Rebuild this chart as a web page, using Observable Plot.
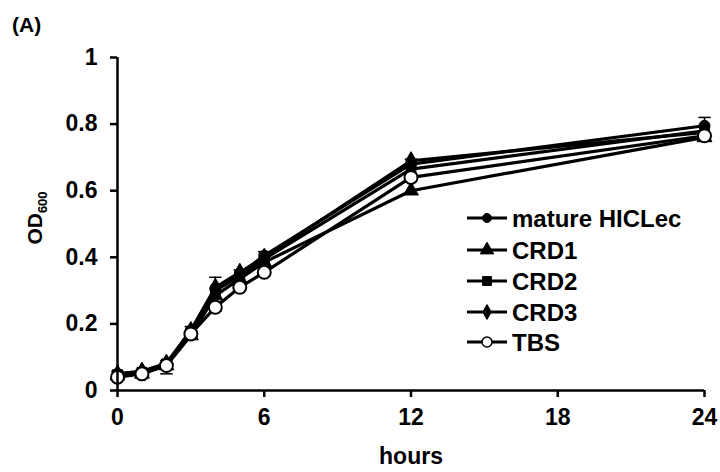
<!DOCTYPE html>
<html>
<head>
<meta charset="utf-8">
<script src="https://cdn.jsdelivr.net/npm/d3@7"></script>
<script src="https://cdn.jsdelivr.net/npm/@observablehq/plot@0.6"></script>
<style>
  html, body { margin: 0; padding: 0; background: #fff; }
  #chart { width: 720px; height: 472px; position: relative; }
</style>
</head>
<body>
<div id="chart"></div>
<script>
// ---- data ----
const hours = [0, 1, 2, 3, 4, 5, 6, 12, 24];
const seriesNames = ["mature HICLec", "CRD1", "CRD2", "CRD3", "TBS"];
const matureHICLec = [0.050, 0.055, 0.080, 0.180, 0.305, 0.350, 0.405, 0.680, 0.795];
const crd1 = [0.045, 0.050, 0.075, 0.165, 0.285, 0.335, 0.385, 0.600, 0.760];
const crd2 = [0.048, 0.055, 0.080, 0.175, 0.300, 0.345, 0.395, 0.665, 0.780];
const crd3 = [0.050, 0.058, 0.082, 0.180, 0.310, 0.355, 0.400, 0.690, 0.775];
const tbs  = [0.040, 0.050, 0.075, 0.170, 0.250, 0.310, 0.355, 0.640, 0.765];
const matureErr = [0.008, 0.008, 0.010, 0.012, 0.035, 0.012, 0.012, 0.015, 0.025];
const tbsErr    = [0.008, 0.006, 0.025, 0.010, 0.012, 0.010, 0.010, 0.012, 0.010];
const hourTicks = [0, 6, 12, 18, 24];
const odTicks = [0, 0.2, 0.4, 0.6, 0.8, 1];
const symbols = ["circle", "triangle", "square", "diamond", "circle"];
const fills = ["black", "black", "black", "black", "white"];

const allValues = [matureHICLec, crd1, crd2, crd3, tbs];
const rows = [];
seriesNames.forEach((s, i) => hours.forEach((h, j) => rows.push({series: s, idx: i, hour: h, od: allValues[i][j]})));
const errRows = [];
hours.forEach((h, j) => {
  errRows.push({hour: h, lo: matureHICLec[j], hi: matureHICLec[j] + matureErr[j]});
  errRows.push({hour: h, lo: tbs[j] - tbsErr[j], hi: tbs[j]});
});
const capRows = [];
hours.forEach((h, j) => {
  capRows.push({hour: h, od: matureHICLec[j] + matureErr[j]});
  capRows.push({hour: h, od: tbs[j] - tbsErr[j]});
});

const radii = [5.5, 5.5, 5.5, 5.5, 6.5];
const legendRadii = [4.5, 5, 5, 4.5, 5];
const capSymbol = {draw(ctx, size) { const w = Math.sqrt(size) / 2; ctx.moveTo(-w, 0); ctx.lineTo(w, 0); }};
const font = "'Liberation Sans', Arial, sans-serif";

const marks = [
  Plot.ruleX(errRows, {x: "hour", y1: "lo", y2: "hi", stroke: "black", strokeWidth: 1.5}),
  Plot.dot(capRows, {x: "hour", y: "od", symbol: capSymbol, r: 7, stroke: "black", strokeWidth: 1.5, fill: "none"}),
  Plot.line(rows, {x: "hour", y: "od", z: "series", stroke: "black", strokeWidth: 3.2})
];
seriesNames.forEach((s, i) => {
  marks.push(Plot.dot(rows.filter(d => d.idx === i), {
    x: "hour", y: "od", symbol: () => symbols[i], r: radii[i],
    fill: fills[i], stroke: "black", strokeWidth: i === 4 ? 2 : 1
  }));
});
marks.push(
  Plot.ruleX([0], {y1: 0, y2: 1, stroke: "black", strokeWidth: 2.5}),
  Plot.ruleY([0], {x1: 0, x2: 24, stroke: "black", strokeWidth: 2.5}),
  Plot.axisX({ticks: hourTicks, tickSize: 7, tickPadding: 11, strokeWidth: 2.5, label: null, fontSize: 23}),
  Plot.axisY({ticks: odTicks, tickSize: 7, tickPadding: 13, strokeWidth: 2.5, label: null, fontSize: 23, tickFormat: d => String(d)})
);

const chart = Plot.plot({
  width: 720, height: 472,
  marginLeft: 117, marginRight: 16, marginTop: 57, marginBottom: 82,
  x: {domain: [0, 24]},
  y: {domain: [0, 1]},
  symbol: {type: "identity"},
  style: {fontFamily: font, fontWeight: "bold", fontSize: "23px", color: "black", background: "white", overflow: "visible"},
  marks
});
document.getElementById("chart").appendChild(chart);

const svg = d3.select(chart);
// panel letter
svg.append("text").attr("x", 12).attr("y", 32).attr("text-anchor", "start").attr("font-size", 21).attr("font-weight", "bold")
  .attr("font-family", font).attr("fill", "black").text("(A)");
// x title
svg.append("text").attr("x", 411).attr("y", 464).attr("text-anchor", "middle").attr("font-size", 23)
  .attr("font-weight", "bold").attr("font-family", font).attr("fill", "black").text("hours");
// y title OD600
const yt = svg.append("text").attr("transform", "translate(42,218) rotate(-90)").attr("text-anchor", "middle")
  .attr("font-size", 21).attr("font-weight", "bold").attr("font-family", font).attr("fill", "black");
yt.append("tspan").text("OD");
yt.append("tspan").attr("font-size", 13).attr("dy", 5).text("600");

// legend
const d3sym = {circle: d3.symbolCircle, triangle: d3.symbolTriangle, square: d3.symbolSquare, diamond: d3.symbolDiamond};
const legendY = [218, 250, 281, 312, 342];
const lg = svg.append("g");
seriesNames.forEach((s, i) => {
  const y = legendY[i];
  lg.append("line").attr("x1", 467).attr("x2", 507).attr("y1", y).attr("y2", y).attr("stroke", "black").attr("stroke-width", 3);
  lg.append("path").attr("transform", `translate(487,${y})`)
    .attr("d", d3.symbol(d3sym[symbols[i]], Math.PI * legendRadii[i] * legendRadii[i])())
    .attr("fill", fills[i]).attr("stroke", "black").attr("stroke-width", i === 4 ? 1.5 : 1);
  lg.append("text").attr("x", 512).attr("y", y).attr("dy", "0.36em").attr("text-anchor", "start").attr("font-size", 24)
    .attr("font-weight", "bold").attr("font-family", font).attr("fill", "black").text(s);
});
</script>
</body>
</html>
